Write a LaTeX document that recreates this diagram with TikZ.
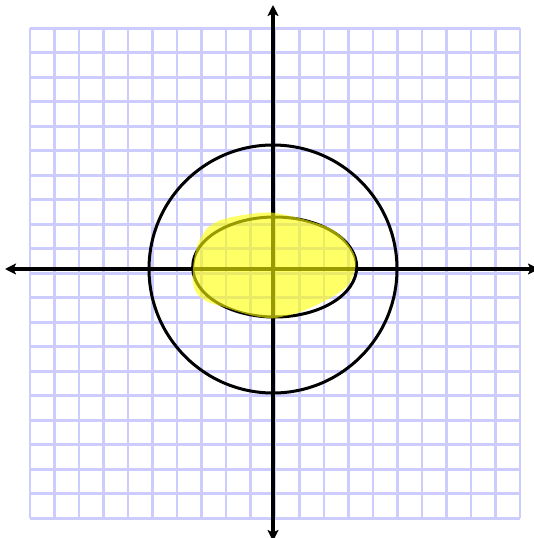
\documentclass[tikz,border=0pt]{standalone}
\usetikzlibrary{arrows.meta}
\definecolor{gridblue}{RGB}{204,204,255}
\definecolor{blobyellow}{RGB}{255,255,0}
\tikzset{
  gridline/.style={draw=gridblue, line width=2.8pt},
  axisline/.style={draw=black, line width=3.4pt, -{Stealth[length=11pt,width=11pt,inset=2.5pt]}},
  curveline/.style={draw=black, line width=3pt},
  blob/.style={fill=blobyellow, fill opacity=0.6}
}
\begin{document}
\begin{tikzpicture}[x=1pt,y=-1pt]
\useasboundingbox (0,0) rectangle (534,538);
\clip (0,0) rectangle (534,538);
% grid
\foreach \i in {0,...,20}{
  \draw[gridline] ({30+24.5*\i},28.3) -- ({30+24.5*\i},518.3);
  \draw[gridline] (30,{28.3+24.5*\i}) -- (520,{28.3+24.5*\i});
}
% axes
\coordinate (O) at (273,269);
\coordinate (top) at (273,5);
\coordinate (bottom) at (273,541);
\coordinate (left) at (5,269);
\coordinate (right) at (539,269);
\draw[axisline] (O) -- (top);
\draw[axisline] (O) -- (bottom);
\draw[axisline] (O) -- (left);
\draw[axisline] (O) -- (right);
% circle
\draw[curveline] (O) circle[radius=124];
% ellipse
\coordinate (E) at (274.7,267);
\draw[curveline] (E) ellipse[x radius=82, y radius=50];
% yellow blob
\fill[blob] plot[smooth cycle, tension=0.5] coordinates {
  (273,212.7) (300,218.3) (326.7,226.7) (341,236) (350,246.7) (355,257)
  (355.5,266.7) (352,278) (346.7,286.7) (337,294) (326.7,300) (312,307)
  (296.7,313.3) (285,316) (273,318.3) (260,317) (250,315) (236,311)
  (223,306.7) (208,302) (199,296) (195,290) (193,283) (192.8,276.7)
  (193.3,265) (195.5,252) (199.5,240) (206.7,229) (215,222.5) (226,218.5)
  (240,215.5) (256,213.3)
};
\end{tikzpicture}
\end{document}
